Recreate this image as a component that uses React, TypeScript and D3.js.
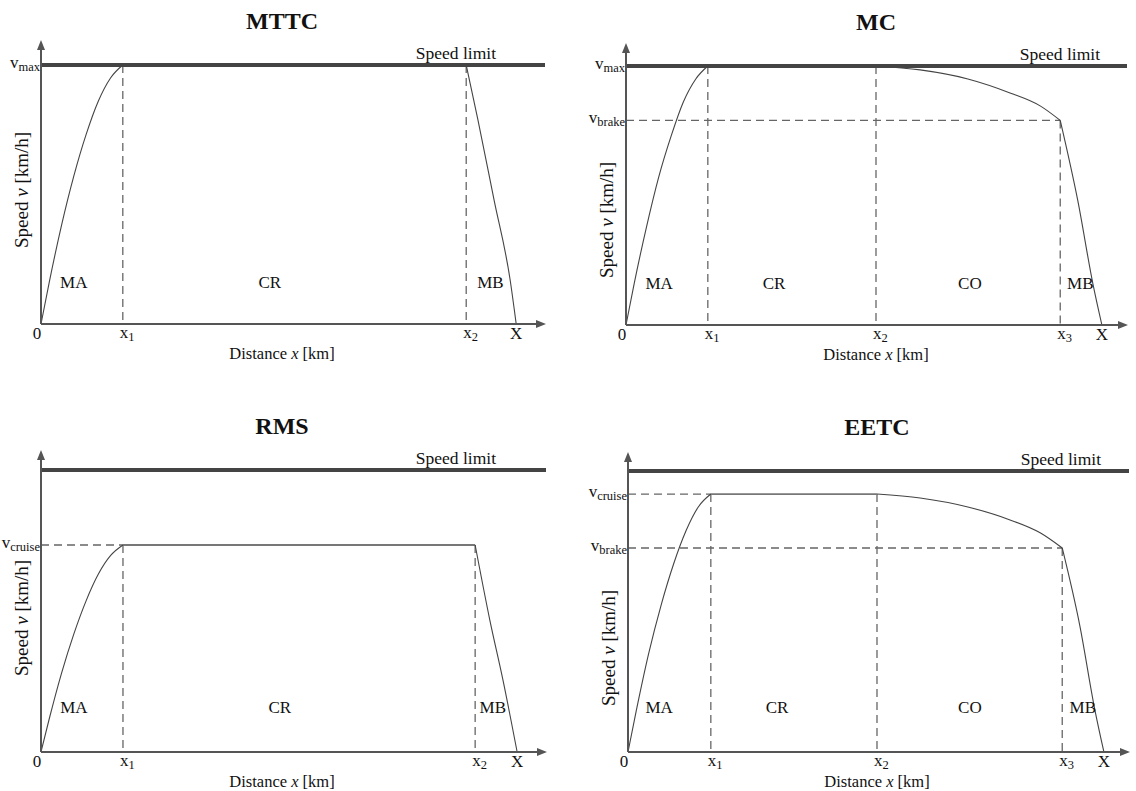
import React from "react";
import * as d3 from "d3";

type Pt = [number, number];

// ---------- data (distance in km-like units 0..10, speed in % of limit) ----------
const titles = ["MTTC", "MC", "RMS", "EETC"];

const mttcAccel: Pt[] = [[0, 0], [0.162, 16], [0.405, 38], [0.648, 57], [0.891, 73], [1.134, 86], [1.377, 95], [1.62, 100]];
const mttcBrake: Pt[] = [[8.42, 100], [8.65, 79], [8.97, 48], [9.29, 17], [9.41, 0]];
const mttcBreaks = [1.62, 8.42, 9.41];
const mttcRegions: [string, number][] = [["MA", 0.65], ["CR", 4.53], ["MB", 8.9]];

const mcAccel: Pt[] = [[0, 0], [0.163, 16], [0.41, 38], [0.65, 57], [0.9, 73], [1.14, 86], [1.39, 95], [1.63, 100]];
const mcCoast: Pt[] = [[4.98, 100], [5.86, 98.5], [6.81, 95], [7.65, 89.6], [8.25, 84.6], [8.65, 79]];
const mcBrake: Pt[] = [[8.65, 79], [9.0, 48], [9.3, 16], [9.48, 0]];
const mcBreaks = [1.63, 4.98, 8.65, 9.48];
const mcRegions: [string, number][] = [["MA", 0.66], ["CR", 2.95], ["CO", 6.85], ["MB", 9.05]];

const rmsAccel: Pt[] = [[0, 0], [0.162, 11.7], [0.405, 27.9], [0.648, 41.8], [0.891, 53.6], [1.134, 63.1], [1.377, 69.7], [1.62, 73.4]];
const rmsCruise: Pt[] = [[1.62, 73.4], [8.58, 73.4]];
const rmsBrake: Pt[] = [[8.58, 73.4], [8.87, 46.8], [9.13, 25.5], [9.41, 0]];
const rmsBreaks = [1.62, 8.58, 9.41];
const rmsRegions: [string, number][] = [["MA", 0.65], ["CR", 4.72], ["MB", 8.93]];

const eetcAccel: Pt[] = [[0, 0], [0.165, 14.7], [0.41, 34.9], [0.66, 52.3], [0.91, 67], [1.16, 78.9], [1.4, 87.2], [1.65, 91.8]];
const eetcCruise: Pt[] = [[1.65, 91.8], [4.96, 91.8]];
const eetcCoast: Pt[] = [[4.96, 91.8], [5.82, 90.4], [6.77, 87.2], [7.61, 82.6], [8.21, 78], [8.65, 72.6]];
const eetcBrake: Pt[] = [[8.65, 72.6], [9.0, 45], [9.3, 15], [9.48, 0]];
const eetcBreaks = [1.65, 4.96, 8.65, 9.48];
const eetcRegions: [string, number][] = [["MA", 0.62], ["CR", 2.97], ["CO", 6.81], ["MB", 9.06]];

const speedLimit = 100;

// ---------- styles ----------
const FONT = "'Liberation Serif', 'Times New Roman', serif";
const AXIS = "#555";
const LIMIT = "#444";
const CURVE = "#444";
const DASH = "#666";

type VLabel = { sub: string; value: number; toX: number };
type VDash = { x: number; from: number };

type PanelCfg = {
  title: string;
  left: number; right: number; bottom: number; top: number; arrowTop: number;
  center: number; limitTextX: number;
  curves: Pt[][];
  flat?: Pt[];
  breaks: string[]; breakVals: number[];
  vLabels: VLabel[];
  vDashes: VDash[];
  regions: [string, number][];
  ylabelY: number;
};

function Sub({ x, y, main, sub, anchor }: { x: number; y: number; main: string; sub: string; anchor: string }) {
  return (
    <text x={x} y={y} textAnchor={anchor as any} fontFamily={FONT} fontSize={17} fill="#111">
      {main}
      <tspan fontSize={12.5} dy={3}>{sub}</tspan>
    </text>
  );
}

function Panel({ c }: { c: PanelCfg }) {
  const x = d3.scaleLinear().domain([0, 10]).range([c.left, c.right]);
  const y = d3.scaleLinear().domain([0, speedLimit]).range([c.bottom, c.top]);
  const line = d3.line<Pt>().x((d) => x(d[0])).y((d) => y(d[1])).curve(d3.curveMonotoneX);
  return (
    <g>
      <text x={c.center} y={c.top - 36} textAnchor="middle" fontFamily={FONT} fontWeight="bold" fontSize={24} fill="#111">
        {c.title}
      </text>
      {/* dashed guides */}
      {c.vLabels.map((v, i) => (
        <line key={"h" + i} x1={x(0)} x2={x(v.toX)} y1={y(v.value)} y2={y(v.value)} stroke={DASH} strokeWidth={1.3} strokeDasharray="8,5" />
      ))}
      {c.vDashes.map((v, i) => (
        <line key={"v" + i} x1={x(v.x)} x2={x(v.x)} y1={y(v.from)} y2={y(0)} stroke={DASH} strokeWidth={1.3} strokeDasharray="8,5" />
      ))}
      {c.flat && (
        <path d={line(c.flat) || ""} fill="none" stroke="#777" strokeWidth={1.8} />
      )}
      {/* speed limit */}
      <line x1={x(0)} x2={c.right - 1} y1={y(speedLimit)} y2={y(speedLimit)} stroke={LIMIT} strokeWidth={4} />
      <text x={c.limitTextX} y={y(speedLimit) - 6} textAnchor="end" fontFamily={FONT} fontSize={17.5} fill="#111">Speed limit</text>
      {/* curves */}
      {c.curves.map((pts, i) => (
        <path key={"c" + i} d={line(pts) || ""} fill="none" stroke={CURVE} strokeWidth={1.1} />
      ))}
      {/* axes */}
      <line x1={c.left} x2={c.right - 6} y1={c.bottom} y2={c.bottom} stroke={AXIS} strokeWidth={2} />
      <path d={`M${c.right},${c.bottom} L${c.right - 10},${c.bottom - 4} L${c.right - 10},${c.bottom + 4} Z`} fill={AXIS} />
      <line x1={c.left} x2={c.left} y1={c.bottom} y2={c.arrowTop + 6} stroke={AXIS} strokeWidth={2} />
      <path d={`M${c.left},${c.arrowTop} L${c.left - 4},${c.arrowTop + 10} L${c.left + 4},${c.arrowTop + 10} Z`} fill={AXIS} />
      {/* y labels */}
      {c.vLabels.map((v, i) => (
        <Sub key={"yl" + i} x={c.left - 1} y={y(v.value) + 3} main="v" sub={v.sub} anchor="end" />
      ))}
      {/* x labels */}
      <text x={c.left - 4} y={c.bottom + 15} textAnchor="middle" fontFamily={FONT} fontSize={17} fill="#111">0</text>
      {c.breaks.map((b, i) =>
        b === "X" ? (
          <text key={"xl" + i} x={x(c.breakVals[i])} y={c.bottom + 15} textAnchor="middle" fontFamily={FONT} fontSize={17} fill="#111">X</text>
        ) : (
          <Sub key={"xl" + i} x={x(c.breakVals[i]) - 3} y={c.bottom + 14} main="x" sub={b} anchor="start" />
        )
      )}
      <text x={c.center} y={c.bottom + 35} textAnchor="middle" fontFamily={FONT} fontSize={16.5} fill="#111">
        Distance <tspan fontStyle="italic">x</tspan> [km]
      </text>
      <text transform={`translate(${c.left - 13},${c.ylabelY}) rotate(-90)`} textAnchor="middle" fontFamily={FONT} fontSize={19} fill="#111">
        Speed <tspan fontStyle="italic">v</tspan> [km/h]
      </text>
      {/* regions */}
      {c.regions.map(([t, v], i) => (
        <text key={"r" + i} x={x(v)} y={y(14)} textAnchor="middle" fontFamily={FONT} fontSize={17} fill="#111">{t}</text>
      ))}
    </g>
  );
}

export default function App() {
  const panels: PanelCfg[] = [
    {
      title: titles[0], left: 41, right: 546, bottom: 324, top: 65, arrowTop: 40, center: 282, limitTextX: 496,
      curves: [mttcAccel, mttcBrake],
      breaks: ["1", "2", "X"], breakVals: mttcBreaks,
      vLabels: [{ sub: "max", value: 100, toX: 0 }],
      vDashes: [{ x: mttcBreaks[0], from: 100 }, { x: mttcBreaks[1], from: 100 }],
      regions: mttcRegions, ylabelY: 190,
    },
    {
      title: titles[1], left: 626, right: 1128, bottom: 325, top: 66, arrowTop: 43, center: 876, limitTextX: 1100,
      curves: [mcAccel, mcCoast, mcBrake],
      breaks: ["1", "2", "3", "X"], breakVals: mcBreaks,
      vLabels: [{ sub: "max", value: 100, toX: 0 }, { sub: "brake", value: 79, toX: mcBreaks[2] }],
      vDashes: [{ x: mcBreaks[0], from: 100 }, { x: mcBreaks[1], from: 100 }, { x: mcBreaks[2], from: 79 }],
      regions: mcRegions, ylabelY: 220,
    },
    {
      title: titles[2], left: 41, right: 547, bottom: 752, top: 470, arrowTop: 450, center: 282, limitTextX: 496,
      curves: [rmsAccel, rmsBrake],
      flat: rmsCruise,
      breaks: ["1", "2", "X"], breakVals: rmsBreaks,
      vLabels: [{ sub: "cruise", value: 73.4, toX: rmsBreaks[0] }],
      vDashes: [{ x: rmsBreaks[0], from: 73.4 }, { x: rmsBreaks[1], from: 73.4 }],
      regions: rmsRegions, ylabelY: 618,
    },
    {
      title: titles[3], left: 628, right: 1130, bottom: 752, top: 471, arrowTop: 452, center: 877, limitTextX: 1101,
      curves: [eetcAccel, eetcCoast, eetcBrake],
      flat: eetcCruise,
      breaks: ["1", "2", "3", "X"], breakVals: eetcBreaks,
      vLabels: [{ sub: "cruise", value: 91.8, toX: eetcBreaks[0] }, { sub: "brake", value: 72.6, toX: eetcBreaks[2] }],
      vDashes: [{ x: eetcBreaks[0], from: 91.8 }, { x: eetcBreaks[1], from: 91.8 }, { x: eetcBreaks[2], from: 72.6 }],
      regions: eetcRegions, ylabelY: 648,
    },
  ];
  return (
    <svg width={1136} height={791} style={{ position: "absolute", left: 0, top: 0, background: "#fff" }}>
      <rect width={1136} height={791} fill="#fff" />
      {panels.map((p, i) => (
        <Panel key={i} c={p} />
      ))}
    </svg>
  );
}
